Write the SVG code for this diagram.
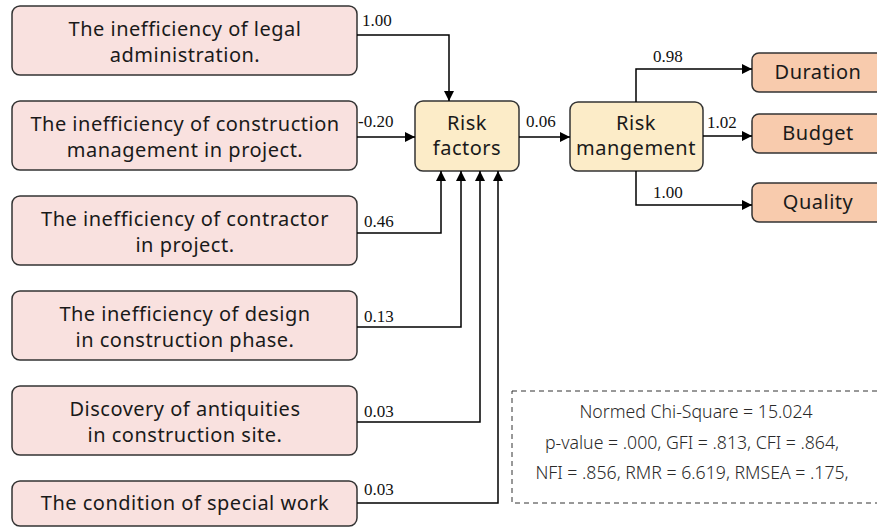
<svg xmlns="http://www.w3.org/2000/svg" width="877" height="528" viewBox="0 0 877 528">
<defs>
<marker id="ah" markerWidth="10" markerHeight="10" refX="10" refY="5" orient="auto" markerUnits="userSpaceOnUse">
<path d="M0,0 L10,5 L0,10 Z" fill="#000"/>
</marker>
<style>
.src{fill:#f9e1df;stroke:#333;stroke-width:1.5}
.mid{fill:#fcecc8;stroke:#333;stroke-width:1.5}
.out{fill:#f8cbad;stroke:#333;stroke-width:1.5}
.t{font-family:"Noto Sans","Open Sans",sans-serif;font-size:20px;letter-spacing:0.5px;fill:#1a1a1a;text-anchor:middle}
.lb{font-family:"Liberation Serif","Times New Roman",serif;font-size:17px;fill:#111}
.st{font-family:"Noto Sans","Open Sans",sans-serif;font-size:17.7px;font-weight:300;fill:#2a2a2a;text-anchor:middle}
.c{fill:none;stroke:#000;stroke-width:1.5}
</style>
</defs>
<rect width="877" height="528" fill="#fff"/>

<g id="n1"><rect class="src" x="12" y="6" width="345" height="69" rx="8"/>
<text class="t" x="185" y="36">The inefficiency of legal</text><text class="t" x="185" y="62">administration.</text></g>
<g id="n2"><rect class="src" x="12" y="101" width="345" height="69" rx="8"/>
<text class="t" x="185" y="131">The inefficiency of construction</text><text class="t" x="185" y="157">management in project.</text></g>
<g id="n3"><rect class="src" x="12" y="196" width="345" height="69" rx="8"/>
<text class="t" x="185" y="226">The inefficiency of contractor</text><text class="t" x="185" y="252">in project.</text></g>
<g id="n4"><rect class="src" x="12" y="291" width="345" height="69" rx="8"/>
<text class="t" x="185" y="321">The inefficiency of design</text><text class="t" x="185" y="347">in construction phase.</text></g>
<g id="n5"><rect class="src" x="12" y="386" width="345" height="69" rx="8"/>
<text class="t" x="185" y="416">Discovery of antiquities</text><text class="t" x="185" y="442">in construction site.</text></g>
<g id="n6"><rect class="src" x="12" y="481" width="345" height="45" rx="8"/>
<text class="t" x="185" y="510">The condition of special work</text></g>

<g id="riskfactors"><rect class="mid" x="415" y="101" width="104" height="70" rx="8"/>
<text class="t" x="467" y="130">Risk</text><text class="t" x="467" y="155">factors</text></g>
<g id="riskmanagement"><rect class="mid" x="570" y="102" width="133" height="69" rx="8"/>
<text class="t" x="636" y="130">Risk</text><text class="t" x="636" y="155">mangement</text></g>

<g id="duration"><rect class="out" x="752" y="53" width="135" height="39" rx="7"/>
<text class="t" x="818" y="79">Duration</text></g>
<g id="budget"><rect class="out" x="752" y="114" width="135" height="39" rx="7"/>
<text class="t" x="818" y="140">Budget</text></g>
<g id="quality"><rect class="out" x="752" y="183" width="135" height="39" rx="7"/>
<text class="t" x="818" y="209">Quality</text></g>

<g id="connectors">
<path class="c" d="M357,35 H449 V101" marker-end="url(#ah)"/>
<path class="c" d="M357,137 H415" marker-end="url(#ah)"/>
<path class="c" d="M357,233 H441 V171" marker-end="url(#ah)"/>
<path class="c" d="M357,327 H461 V171" marker-end="url(#ah)"/>
<path class="c" d="M357,422 H480 V171" marker-end="url(#ah)"/>
<path class="c" d="M357,503 H498 V171" marker-end="url(#ah)"/>
<path class="c" d="M519,137 H570" marker-end="url(#ah)"/>
<path class="c" d="M636,102 V69 H752" marker-end="url(#ah)"/>
<path class="c" d="M703,136 H752" marker-end="url(#ah)"/>
<path class="c" d="M636,171 V205 H752" marker-end="url(#ah)"/>
<text class="lb" x="362" y="26">1.00</text>
<text class="lb" x="358" y="127">-0.20</text>
<text class="lb" x="364" y="227">0.46</text>
<text class="lb" x="364" y="322">0.13</text>
<text class="lb" x="364" y="417">0.03</text>
<text class="lb" x="364" y="495">0.03</text>
<text class="lb" x="526" y="127">0.06</text>
<text class="lb" x="653" y="62">0.98</text>
<text class="lb" x="707" y="128">1.02</text>
<text class="lb" x="653" y="198">1.00</text>
</g>

<g id="stats">
<rect x="512" y="391" width="380" height="112" fill="none" stroke="#333" stroke-width="1" stroke-dasharray="5,4"/>
<text class="st" x="696" y="418">Normed Chi-Square = 15.024</text>
<text class="st" x="692" y="449">p-value = .000, GFI = .813, CFI = .864,</text>
<text class="st" x="692" y="479">NFI = .856, RMR = 6.619, RMSEA = .175,</text>
</g>
</svg>
